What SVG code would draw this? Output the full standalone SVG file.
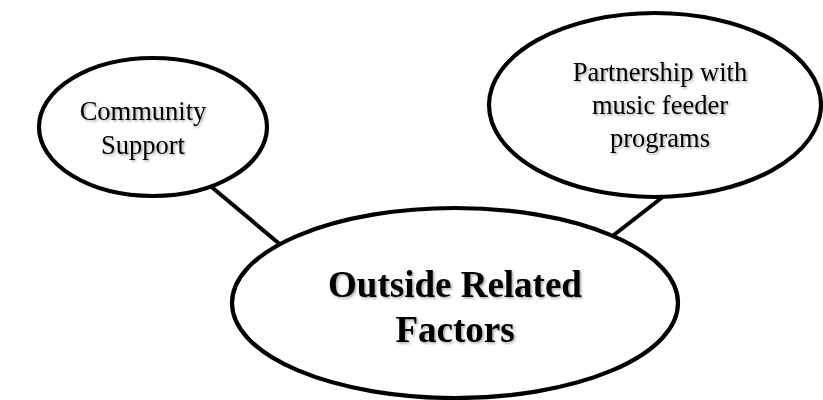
<svg xmlns="http://www.w3.org/2000/svg" width="823" height="400" viewBox="0 0 823 400">
  <defs>
    <filter id="soft-shadow" x="-10%" y="-20%" width="120%" height="140%">
      <feDropShadow dx="1.5" dy="1.5" stdDeviation="1" flood-color="#000" flood-opacity="0.35"/>
    </filter>
  </defs>
  <style>
    .bubble { fill: #fff; stroke: #000; stroke-width: 4.2; }
    .link { stroke: #000; stroke-width: 4; stroke-linecap: butt; }
    .label { font-family: "Liberation Serif", "Times New Roman", serif; fill: #000; text-anchor: middle; filter: url(#soft-shadow); }
    .small { font-size: 26.5px; }
    .big { font-size: 37px; font-weight: bold; }
  </style>
  <rect width="823" height="400" fill="#fff"/>

  <g id="connectors">
    <line class="link" x1="208" y1="184" x2="282" y2="246"/>
    <line class="link" x1="664" y1="196" x2="610" y2="238"/>
  </g>

  <g id="community-support">
    <ellipse class="bubble" cx="153" cy="127" rx="114" ry="69"/>
    <text class="label small" x="143" y="120">Community</text>
    <text class="label small" x="143" y="154">Support</text>
  </g>

  <g id="partnership">
    <ellipse class="bubble" cx="655" cy="105" rx="166" ry="92"/>
    <text class="label small" x="660" y="81">Partnership with</text>
    <text class="label small" x="660" y="114">music feeder</text>
    <text class="label small" x="660" y="147">programs</text>
  </g>

  <g id="outside-related-factors">
    <ellipse class="bubble" cx="455" cy="303" rx="223" ry="95"/>
    <text class="label big" x="455" y="297">Outside Related</text>
    <text class="label big" x="455" y="342">Factors</text>
  </g>
</svg>
